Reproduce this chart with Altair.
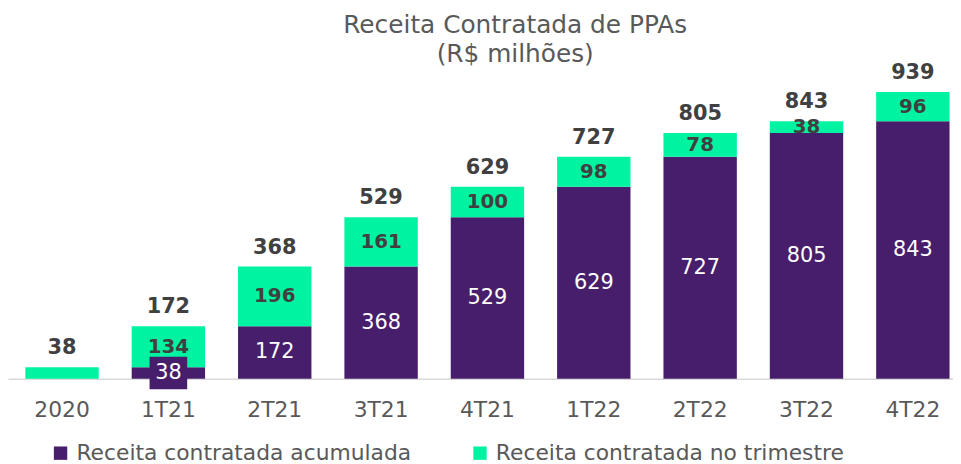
import altair as alt
import pandas as pd

categories = ["2020", "1T21", "2T21", "3T21", "4T21", "1T22", "2T22", "3T22", "4T22"]
acumulada = [0, 38, 172, 368, 529, 629, 727, 805, 843]
trimestre = [38, 134, 196, 161, 100, 98, 78, 38, 96]
total = [38, 172, 368, 529, 629, 727, 805, 843, 939]

S1 = "Receita contratada acumulada"
S2 = "Receita contratada no trimestre"
PURPLE = "#471E6C"
GREEN = "#00F3A0"
DARK = "#404040"
GRAY = "#595959"
FONT = "DejaVu Sans"

rows = []
for c, a, t in zip(categories, acumulada, trimestre):
    rows.append({"cat": c, "serie": S1, "y0": 0, "y1": a, "val": a, "mid": a / 2})
    rows.append({"cat": c, "serie": S2, "y0": a, "y1": a + t, "val": t, "mid": a + t / 2})
bars_df = pd.DataFrame(rows)
tot_df = pd.DataFrame({"cat": categories, "total": total, "acum": acumulada})

xenc = alt.X(
    "cat:N",
    sort=categories,
    title=None,
    scale=alt.Scale(paddingInner=0.31, paddingOuter=0.163, range=[0, 967]),
    axis=alt.Axis(
        domainColor="#D9D9D9",
        domainWidth=1.5,
        ticks=False,
        labelAngle=0,
        labelFont=FONT,
        labelFontSize=22,
        labelColor=GRAY,
        labelPadding=21,
    ),
)
yscale = alt.Scale(domain=[0, 1000], nice=False)

bars = (
    alt.Chart(bars_df)
    .mark_bar()
    .encode(
        x=xenc,
        y=alt.Y("y0:Q", scale=yscale, axis=None),
        y2="y1:Q",
        color=alt.Color(
            "serie:N",
            scale=alt.Scale(domain=[S1, S2], range=[PURPLE, GREEN]),
            legend=alt.Legend(
                title=None,
                orient="none",
                direction="horizontal",
                legendX=42,
                legendY=372,
                labelFont=FONT,
                labelFontSize=22,
                labelColor=GRAY,
                labelLimit=0,
                symbolType="square",
                symbolSize=182,
                symbolStrokeWidth=0,
                labelOffset=5,
                columnPadding=58,
            ),
        ),
    )
)

box_df = bars_df[(bars_df.serie == S1) & (bars_df.val > 0) & (bars_df.val < 100)]
boxes = (
    alt.Chart(box_df)
    .mark_point(shape="M-1.15,-1L1.15,-1L1.15,1L-1.15,1Z", size=1089, filled=True, opacity=1, color=PURPLE)
    .encode(x=alt.X("cat:N", sort=categories), y=alt.Y("mid:Q", scale=yscale))
)

purple_lbl = (
    alt.Chart(bars_df[(bars_df.serie == S1) & (bars_df.val > 0)])
    .mark_text(font=FONT, fontSize=21, color="white", baseline="middle")
    .encode(x=alt.X("cat:N", sort=categories), y=alt.Y("mid:Q", scale=yscale), text="val:Q")
)

green_src = bars_df[bars_df.serie == S2].copy()
green_src = green_src[[a > 0 for a in acumulada]]
green_lbl = (
    alt.Chart(green_src)
    .mark_text(font=FONT, fontSize=20, fontWeight="bold", color=DARK, baseline="middle")
    .encode(x=alt.X("cat:N", sort=categories), y=alt.Y("mid:Q", scale=yscale), text="val:Q")
)

tot_lbl = (
    alt.Chart(tot_df)
    .mark_text(font=FONT, fontSize=21, fontWeight="bold", color=DARK, baseline="bottom", dy=-9)
    .encode(x=alt.X("cat:N", sort=categories), y=alt.Y("total:Q", scale=yscale), text="total:Q")
)

chart = (
    alt.layer(bars, boxes, purple_lbl, green_lbl, tot_lbl)
    .properties(
        width=953,
        height=308,
        autosize=alt.AutoSizeParams(type="none"),
        padding={"top": 64, "left": 0, "right": 0, "bottom": 84},
        title=alt.TitleParams(
            ["Receita Contratada de PPAs", "(R$ milhões)"],
            font=FONT,
            fontSize=25,
            fontWeight="normal",
            color=GRAY,
            anchor="middle",
            baseline="bottom",
            dx=35,
            dy=34,
            offset=4,
            lineHeight=30,
        ),
    )
    .configure_view(stroke=None)
)

chart.save("out.html", embed_options={"renderer": "svg", "actions": False})
